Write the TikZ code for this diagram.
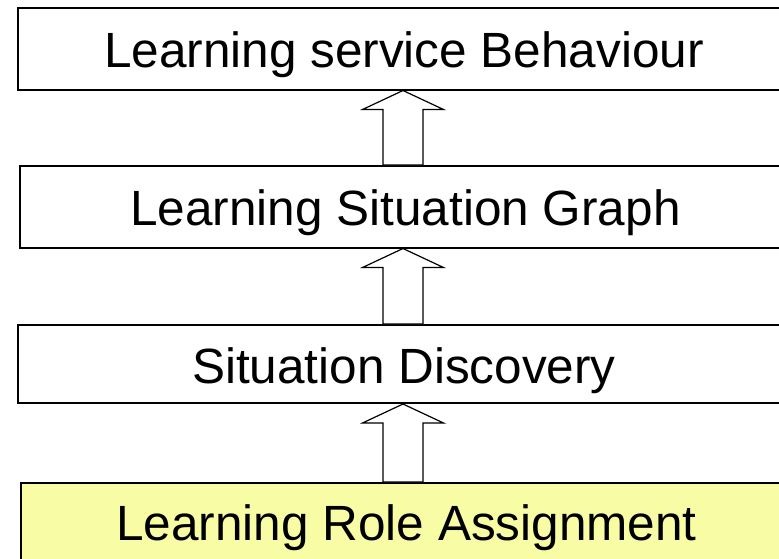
\documentclass[tikz,border=0pt]{standalone}
\usepackage{fontspec}
\setmainfont{Liberation Sans}
\usetikzlibrary{calc}
\definecolor{lightyel}{RGB}{248,252,164}
\tikzset{
  layer/.style={draw=black, line width=2pt, minimum width=772pt, inner sep=0pt,
    text height=38pt, text depth=0pt,
    font=\fontsize{49.5}{60}\selectfont, text=black},
  blockarr/.style={draw=black, line width=1.2pt, fill=white, line join=miter}
}
\newcommand{\upblock}[2]{%
  \draw[blockarr] let \p1=(#1.south), \p2=(#2.north) in
    (403pt,\y1) -- (443.5pt,\y1-19pt) -- (423pt,\y1-19pt) -- (423pt,\y2)
    -- (383pt,\y2) -- (383pt,\y1-19pt) -- (362.5pt,\y1-19pt) -- cycle;}
\begin{document}
\begin{tikzpicture}[x=1pt,y=-1pt]
\useasboundingbox (0,0) rectangle (779,558);
\node[layer, minimum height=81.5pt] (beh) at (404,48.75) {Learning service Behaviour};
\node[layer, minimum height=81.5pt] (graph) at (405.5,206.75) {Learning Situation Graph};
\node[layer, minimum height=78pt] (disc) at (404,364) {Situation Discovery};
\node[layer, minimum height=77pt, fill=lightyel] (role) at (406.5,521.5) {Learning Role Assignment};
\upblock{beh}{graph}
\upblock{graph}{disc}
\upblock{disc}{role}
\end{tikzpicture}
\end{document}
